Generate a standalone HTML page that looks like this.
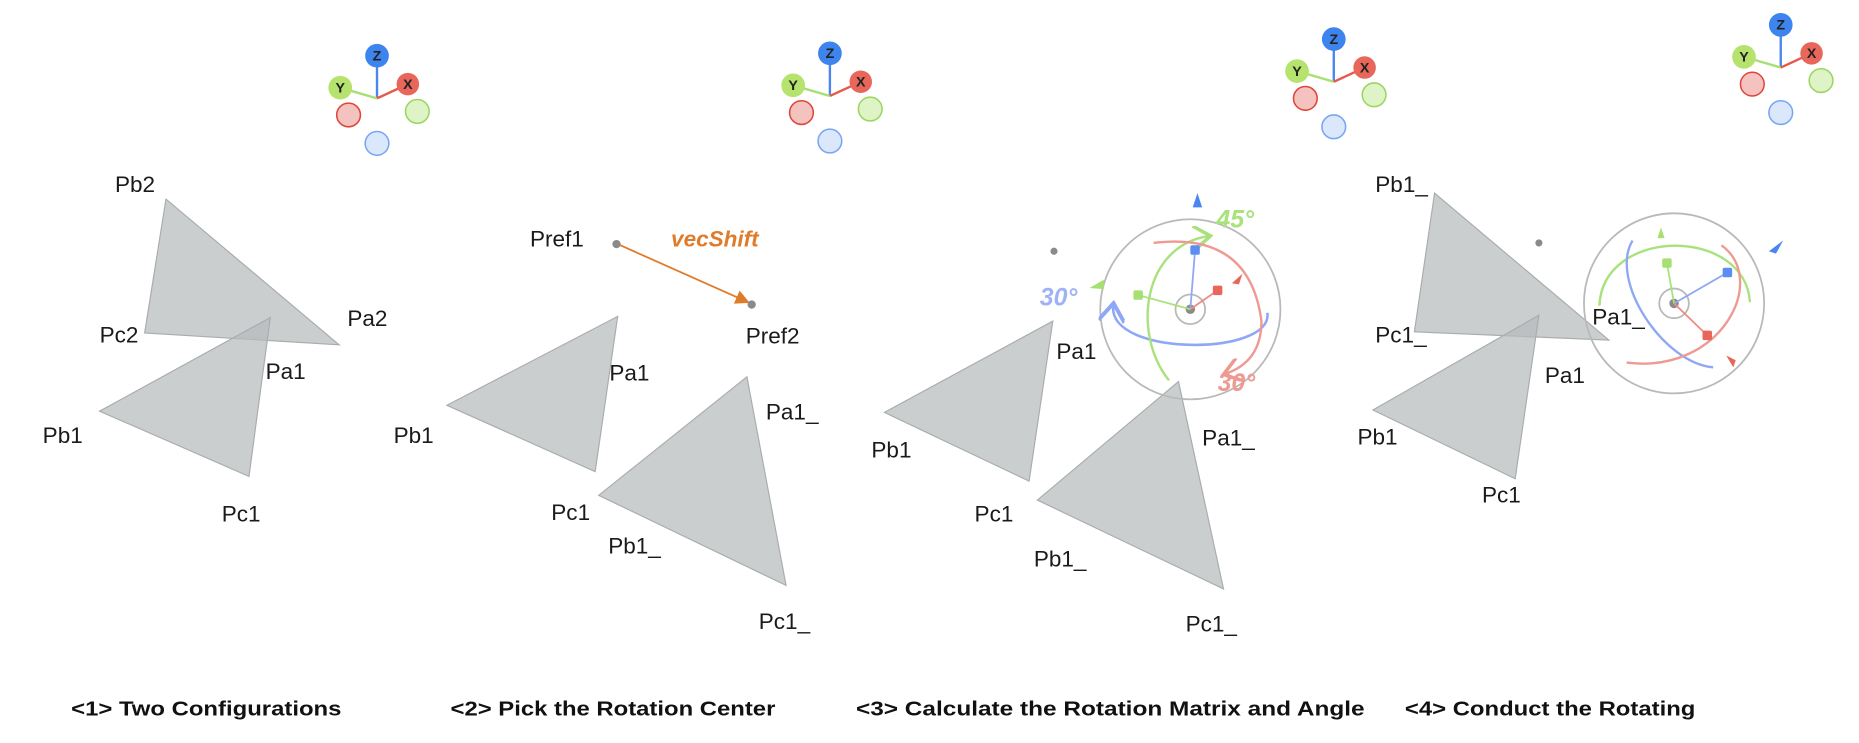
<!DOCTYPE html>
<html><head><meta charset="utf-8"><style>
html,body{margin:0;padding:0;background:#fff;}
svg{display:block;}
text{font-family:"Liberation Sans",sans-serif;}
.lbl{font-size:19px;fill:#1a1a1a;}
.cap{font-size:17.5px;font-weight:bold;fill:#111;}
.tri{fill:#b7bbbc;fill-opacity:0.72;stroke:#a9adae;stroke-width:1;}
.ax{font-size:12px;font-weight:bold;fill:#222;text-anchor:middle;}
</style></head><body>
<svg width="1859" height="743" viewBox="0 0 1568 627" preserveAspectRatio="none">
<defs>
<marker id="arrO" markerWidth="8" markerHeight="8" refX="7" refY="4" orient="auto"><path d="M0,0 L8,4 L0,8 z" fill="#e07b2a"/></marker>
<marker id="arrB" markerWidth="10" markerHeight="10" refX="2" refY="5" orient="auto"><path d="M8,0 L1,5 L8,10" fill="none" stroke="#8fa8f5" stroke-width="1.5"/></marker>
<marker id="arrG" markerWidth="10" markerHeight="10" refX="8" refY="5" orient="auto"><path d="M1,0 L8,5 L1,10" fill="none" stroke="#a9e27a" stroke-width="1.5"/></marker>
<marker id="arrR" markerWidth="10" markerHeight="10" refX="8" refY="5" orient="auto"><path d="M1,0 L8,5 L1,10" fill="none" stroke="#ee9a92" stroke-width="1.5"/></marker>
<g id="axg">
<line x1="0" y1="0" x2="0" y2="-27" stroke="#4a86f0" stroke-width="2"/>
<line x1="0" y1="0" x2="-31" y2="-9" stroke="#a6e070" stroke-width="2"/>
<line x1="0" y1="0" x2="26" y2="-12" stroke="#e8584a" stroke-width="2"/>
<circle cx="0" cy="-36" r="10" fill="#3d84ee"/>
<circle cx="-31" cy="-9" r="10" fill="#b5e36e"/>
<circle cx="26" cy="-12" r="9.5" fill="#e8665a"/>
<text class="ax" x="0" y="-32">Z</text>
<text class="ax" x="-31" y="-5">Y</text>
<text class="ax" x="26" y="-8">X</text>
<circle cx="-24" cy="14" r="10" fill="#f4c3c0" stroke="#e0443a" stroke-width="1.3"/>
<circle cx="34" cy="11" r="10" fill="#def3c6" stroke="#9bd660" stroke-width="1.3"/>
<circle cx="0" cy="38" r="10" fill="#dbe7fb" stroke="#78a6f2" stroke-width="1.3"/>
</g>
</defs>

<!-- Panel 1 -->
<g>
<use href="#axg" x="318" y="83"/>
<polygon class="tri" points="140,168 122,281 286,291"/>
<polygon class="tri" points="84,347 228,268 210,402"/>
<text class="lbl" x="97" y="162">Pb2</text>
<text class="lbl" x="84" y="289">Pc2</text>
<text class="lbl" x="293" y="275">Pa2</text>
<text class="lbl" x="224" y="320">Pa1</text>
<text class="lbl" x="36" y="374">Pb1</text>
<text class="lbl" x="187" y="440">Pc1</text>
<text class="cap" x="60" y="604" textLength="228" lengthAdjust="spacingAndGlyphs">&lt;1&gt; Two Configurations</text>
</g>

<!-- Panel 2 -->
<g>
<use href="#axg" x="700" y="81"/>
<line x1="521" y1="206" x2="631" y2="255" stroke="#e07b2a" stroke-width="1.5" marker-end="url(#arrO)"/>
<circle cx="520" cy="206" r="3.5" fill="#8a8a8a"/>
<circle cx="634" cy="257" r="3.5" fill="#8a8a8a"/>
<text class="lbl" x="447" y="208">Pref1</text>
<text x="566" y="208" style="font-size:19px;font-weight:bold;font-style:italic;fill:#e07b2a">vecShift</text>
<text class="lbl" x="629" y="290">Pref2</text>
<polygon class="tri" points="377,342 521,267 502,398"/>
<polygon class="tri" points="630,318 505,418 663,494"/>
<text class="lbl" x="514" y="321">Pa1</text>
<text class="lbl" x="332" y="374">Pb1</text>
<text class="lbl" x="465" y="439">Pc1</text>
<text class="lbl" x="646" y="354">Pa1_</text>
<text class="lbl" x="513" y="467">Pb1_</text>
<text class="lbl" x="640" y="531">Pc1_</text>
<text class="cap" x="380" y="604" textLength="274" lengthAdjust="spacingAndGlyphs">&lt;2&gt; Pick the Rotation Center</text>
</g>

<!-- Panel 3 -->
<g>
<use href="#axg" x="1125" y="69"/>
<circle cx="889" cy="212" r="3" fill="#8a8a8a"/>
<polygon class="tri" points="746,348 888,271 868,406"/>
<polygon class="tri" points="994,322 875,422 1032,497"/>
<text class="lbl" x="891" y="303">Pa1</text>
<text class="lbl" x="735" y="386">Pb1</text>
<text class="lbl" x="822" y="440">Pc1</text>
<text class="lbl" x="1014" y="376">Pa1_</text>
<text class="lbl" x="872" y="478">Pb1_</text>
<text class="lbl" x="1000" y="533">Pc1_</text>
<g transform="translate(1004,261)">
<circle r="76" fill="none" stroke="#b9b9b9" stroke-width="1.5"/>
<circle r="12.5" fill="none" stroke="#b9b9b9" stroke-width="1.5"/>
<circle r="4" fill="#8a8a8a"/>
<path d="M-65,-3 C-70,40 70,40 65,3" fill="none" stroke="#8fa8f5" stroke-width="2.2" marker-start="url(#arrB)"/>
<path d="M-18,60 C-50,20 -40,-55 17,-62" fill="none" stroke="#a9e27a" stroke-width="2" marker-end="url(#arrG)"/>
<path d="M-31,-56 Q50,-66 60,10 Q60,45 28,55" fill="none" stroke="#ee9a92" stroke-width="2" marker-end="url(#arrR)"/>
<line x1="0" y1="0" x2="4" y2="-50" stroke="#8fa8f5" stroke-width="1.5"/>
<line x1="0" y1="0" x2="-44" y2="-12" stroke="#a9e27a" stroke-width="1.5"/>
<line x1="0" y1="0" x2="23" y2="-16" stroke="#ee8a80" stroke-width="1.5"/>
<rect x="0" y="-54" width="8" height="8" rx="1.5" fill="#5b8ef0"/>
<rect x="-48" y="-16" width="8" height="8" rx="1.5" fill="#a6e070"/>
<rect x="19" y="-20" width="8" height="8" rx="1.5" fill="#e8665a"/>
<path d="M35,-22 L44,-30 L41,-21 z" fill="#e8665a"/>
<path d="M2,-86 L6,-98 L10,-86 z" fill="#4a86f0"/>
<path d="M-85,-18 L-73,-25 L-73,-17 z" fill="#a6e070"/>
</g>
<text x="1026" y="192" style="font-size:21px;font-weight:bold;font-style:italic;fill:#a9e27a">45°</text>
<text x="877" y="258" style="font-size:21px;font-weight:bold;font-style:italic;fill:#9fb2f5">30°</text>
<text x="1027" y="330" style="font-size:21px;font-weight:bold;font-style:italic;fill:#ee9a92">30°</text>
<text class="cap" x="722" y="604" textLength="429" lengthAdjust="spacingAndGlyphs">&lt;3&gt; Calculate the Rotation Matrix and Angle</text>
</g>

<!-- Panel 4 -->
<g>
<use href="#axg" x="1502" y="57"/>
<circle cx="1298" cy="205" r="3" fill="#8a8a8a"/>
<polygon class="tri" points="1210,163 1193,280 1357,287"/>
<polygon class="tri" points="1158,346 1298,266 1278,404"/>
<text class="lbl" x="1160" y="162">Pb1_</text>
<text class="lbl" x="1160" y="289">Pc1_</text>
<text class="lbl" x="1303" y="323">Pa1</text>
<text class="lbl" x="1145" y="375">Pb1</text>
<text class="lbl" x="1250" y="424">Pc1</text>
<g transform="translate(1412,256)">
<circle r="76" fill="none" stroke="#b9b9b9" stroke-width="1.5"/>
<circle r="12.5" fill="none" stroke="#b9b9b9" stroke-width="1.5"/>
<circle r="4" fill="#8a8a8a"/>
<path d="M-63,2 C-60,-65 60,-65 64,-1" fill="none" stroke="#a9e27a" stroke-width="2"/>
<path d="M-35,-53 C-55,-20 -10,50 33,54" fill="none" stroke="#8fa8f5" stroke-width="2"/>
<path d="M40,-49 C80,-20 40,60 -40,50" fill="none" stroke="#ee9a92" stroke-width="2"/>
<line x1="0" y1="0" x2="45" y2="-26" stroke="#8fa8f5" stroke-width="1.5"/>
<line x1="0" y1="0" x2="-6" y2="-34" stroke="#a9e27a" stroke-width="1.5"/>
<line x1="0" y1="0" x2="28" y2="27" stroke="#ee8a80" stroke-width="1.5"/>
<rect x="41" y="-30" width="8" height="8" rx="1.5" fill="#5b8ef0"/>
<rect x="-10" y="-38" width="8" height="8" rx="1.5" fill="#a6e070"/>
<rect x="24" y="23" width="8" height="8" rx="1.5" fill="#e8665a"/>
<path d="M44,44 L52,48 L50,54 z" fill="#e8665a"/>
<path d="M-14,-55 L-11,-64 L-8,-55 z" fill="#a6e070"/>
<path d="M80,-44 L92,-53 L86,-42 z" fill="#4a86f0"/>
</g>
<text class="lbl" x="1343" y="274">Pa1_</text>
<text class="cap" x="1185" y="604" textLength="245" lengthAdjust="spacingAndGlyphs">&lt;4&gt; Conduct the Rotating</text>
</g>
</svg>
</body></html>
